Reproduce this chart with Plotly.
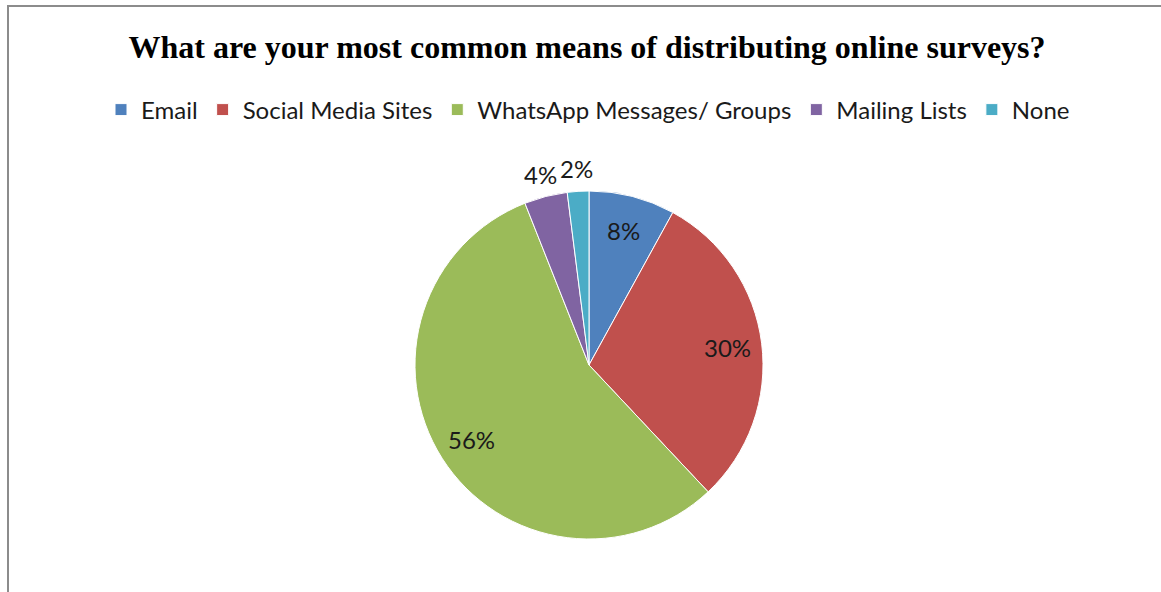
import numpy as np
import plotly.graph_objects as go

# Survey distribution channels (share of respondents, %)
categories = ["Email", "Social Media Sites", "WhatsApp Messages/ Groups", "Mailing Lists", "None"]
shares = [8, 30, 56, 4, 2]
colors = ["#4F81BD", "#C0504D", "#9BBB59", "#8064A2", "#4BACC6"]
label_outside = [False, False, False, True, True]

W, H = 1161, 592
cx, cy, r = 589, 365, 174  # pie centre and radius in pixels

LABEL_FONT = dict(family="Lato, Open Sans, sans-serif", size=24, color="#1a1a1a")

fig = go.Figure(
    go.Pie(
        labels=categories,
        values=shares,
        sort=False,
        direction="clockwise",
        rotation=0,
        marker=dict(colors=colors, line=dict(color="white", width=1)),
        textinfo="none",
        domain=dict(x=[(cx - r) / W, (cx + r) / W], y=[(H - cy - r) / H, (H - cy + r) / H]),
        hoverinfo="label+percent",
        showlegend=True,
    )
)

# Percentage labels placed along each slice's bisector (clockwise from 12 o'clock)
vals = np.array(shares, dtype=float)
frac = vals / vals.sum()
mid = (np.cumsum(frac) - frac / 2) * 2 * np.pi
annotations = []
for f, theta, outside in zip(frac, mid, label_outside):
    rad = r + 23 if outside else 0.8 * r
    px = cx + rad * np.sin(theta)
    py = cy - rad * np.cos(theta)
    annotations.append(
        dict(
            text=f"{round(f * 100)}%",
            x=px / W,
            y=1 - py / H,
            xref="paper",
            yref="paper",
            xanchor="center",
            yanchor="middle",
            showarrow=False,
            font=LABEL_FONT,
        )
    )

fig.update_layout(
    width=W,
    height=H,
    margin=dict(l=0, r=0, t=0, b=0),
    paper_bgcolor="white",
    plot_bgcolor="white",
    title=dict(
        text="<b>What are your most common means of distributing online surveys?</b>",
        font=dict(family="Liberation Serif, Times New Roman, serif", size=32, color="#000000"),
        x=587 / W,
        xanchor="center",
        y=1 - 47 / H,
        yanchor="middle",
    ),
    legend=dict(
        orientation="h",
        x=588 / W,
        xanchor="center",
        y=1 - 110 / H,
        yanchor="middle",
        font=dict(family="Lato, Open Sans, sans-serif", size=24, color="#1a1a1a"),
        itemwidth=30,
        traceorder="normal",
    ),
    annotations=annotations,
    shapes=[
        dict(
            type="rect",
            xref="paper",
            yref="paper",
            x0=8 / W,
            x1=1.01,
            y0=-0.01,
            y1=1 - 6 / H,
            line=dict(color="#8c8c8c", width=2),
            fillcolor="rgba(0,0,0,0)",
        )
    ],
)

fig.write_html("out.html")
